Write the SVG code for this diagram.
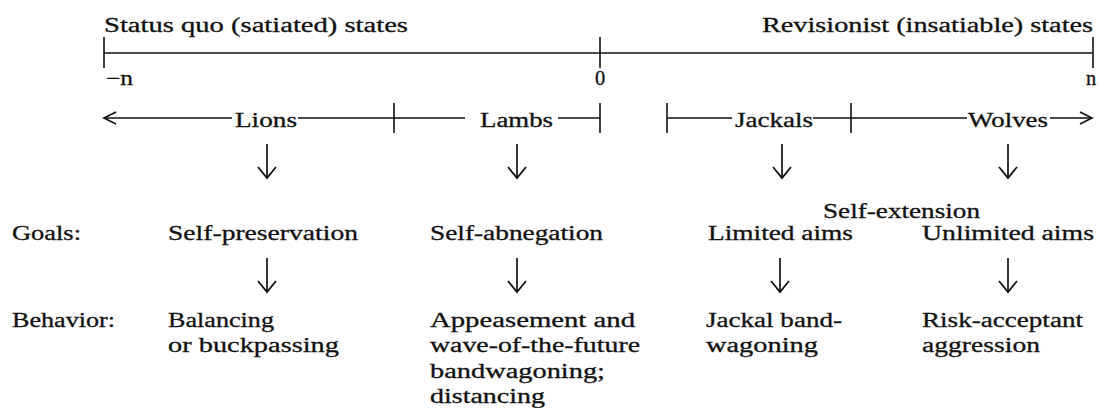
<svg xmlns="http://www.w3.org/2000/svg" width="1099" height="408" viewBox="0 0 1099 408">
<style>
text{font-family:"Liberation Serif","Times New Roman",serif;font-size:20.5px;fill:#111;stroke:#111;stroke-width:0.3;}
.ln{stroke:#111;stroke-width:1.4;fill:none;}
.tk{stroke:#111;stroke-width:1.6;fill:none;}
.ar{stroke:#111;stroke-width:1.7;fill:none;}
</style>
<defs>
<marker id="hd" viewBox="0 0 20 20" refX="18" refY="10" markerWidth="20" markerHeight="20" markerUnits="userSpaceOnUse" orient="auto">
<path d="M6,4 L18,10 L6,16" stroke="#111" stroke-width="1.7" fill="none"/>
</marker>
<marker id="dn" viewBox="0 0 24 24" refX="22" refY="12" markerWidth="24" markerHeight="24" markerUnits="userSpaceOnUse" orient="auto">
<path d="M11,3 L22,12 L11,21" stroke="#111" stroke-width="1.8" fill="none"/>
</marker>
</defs>
<rect width="1099" height="408" fill="#fff"/>

<g id="connectors">
<line class="ln" x1="104" y1="53" x2="1093" y2="53"/>
<line class="tk" x1="104" y1="37" x2="104" y2="68"/>
<line class="tk" x1="600" y1="37" x2="600" y2="68"/>
<line class="tk" x1="1093" y1="37" x2="1093" y2="68"/>
<line class="ln" x1="232" y1="118" x2="104" y2="118" marker-end="url(#hd)"/>
<line class="ln" x1="298" y1="118" x2="465" y2="118"/>
<line class="tk" x1="394" y1="103" x2="394" y2="133"/>
<line class="ln" x1="558" y1="118" x2="600" y2="118"/>
<line class="tk" x1="600" y1="103" x2="600" y2="133"/>
<line class="tk" x1="667" y1="103" x2="667" y2="133"/>
<line class="ln" x1="667" y1="118" x2="732" y2="118"/>
<line class="ln" x1="813" y1="118" x2="967" y2="118"/>
<line class="tk" x1="851" y1="103" x2="851" y2="133"/>
<line class="ln" x1="1050" y1="118" x2="1092" y2="118" marker-end="url(#hd)"/>
<line class="ar" x1="267" y1="144" x2="267" y2="178" marker-end="url(#dn)"/>
<line class="ar" x1="517" y1="144" x2="517" y2="178" marker-end="url(#dn)"/>
<line class="ar" x1="782" y1="144" x2="782" y2="178" marker-end="url(#dn)"/>
<line class="ar" x1="1008" y1="144" x2="1008" y2="178" marker-end="url(#dn)"/>
<line class="ar" x1="267" y1="258" x2="267" y2="292" marker-end="url(#dn)"/>
<line class="ar" x1="517" y1="258" x2="517" y2="292" marker-end="url(#dn)"/>
<line class="ar" x1="780" y1="258" x2="780" y2="292" marker-end="url(#dn)"/>
<line class="ar" x1="1008" y1="258" x2="1008" y2="292" marker-end="url(#dn)"/>
</g>

<g id="axis-labels">
<text x="104" y="32" textLength="304" lengthAdjust="spacingAndGlyphs">Status quo (satiated) states</text>
<text x="762" y="32" textLength="331" lengthAdjust="spacingAndGlyphs">Revisionist (insatiable) states</text>
<text x="106" y="85" textLength="27" lengthAdjust="spacingAndGlyphs">−n</text>
<text x="600" y="85" text-anchor="middle">0</text>
<text x="1091" y="85" text-anchor="middle">n</text>
</g>

<g id="lions"><text x="235" y="127" textLength="62" lengthAdjust="spacingAndGlyphs">Lions</text></g>
<g id="lambs"><text x="480" y="127" textLength="73" lengthAdjust="spacingAndGlyphs">Lambs</text></g>
<g id="jackals"><text x="735" y="127" textLength="78" lengthAdjust="spacingAndGlyphs">Jackals</text></g>
<g id="wolves"><text x="968" y="127" textLength="80" lengthAdjust="spacingAndGlyphs">Wolves</text></g>

<g id="goals-label"><text x="12" y="240" textLength="69" lengthAdjust="spacingAndGlyphs">Goals:</text></g>
<g id="goal-lions"><text x="168" y="240" textLength="190" lengthAdjust="spacingAndGlyphs">Self-preservation</text></g>
<g id="goal-lambs"><text x="430" y="240" textLength="173" lengthAdjust="spacingAndGlyphs">Self-abnegation</text></g>
<g id="self-extension"><text x="823" y="218" textLength="157" lengthAdjust="spacingAndGlyphs">Self-extension</text></g>
<g id="goal-jackals"><text x="708" y="240" textLength="145" lengthAdjust="spacingAndGlyphs">Limited aims</text></g>
<g id="goal-wolves"><text x="922" y="240" textLength="172" lengthAdjust="spacingAndGlyphs">Unlimited aims</text></g>

<g id="behavior-label"><text x="12" y="327" textLength="103" lengthAdjust="spacingAndGlyphs">Behavior:</text></g>
<g id="beh-lions">
<text x="168" y="327" textLength="106" lengthAdjust="spacingAndGlyphs">Balancing</text>
<text x="168" y="352" textLength="171" lengthAdjust="spacingAndGlyphs">or buckpassing</text>
</g>
<g id="beh-lambs">
<text x="430" y="327" textLength="205" lengthAdjust="spacingAndGlyphs">Appeasement and</text>
<text x="430" y="352" textLength="210" lengthAdjust="spacingAndGlyphs">wave-of-the-future</text>
<text x="430" y="378" textLength="175" lengthAdjust="spacingAndGlyphs">bandwagoning;</text>
<text x="430" y="403" textLength="115" lengthAdjust="spacingAndGlyphs">distancing</text>
</g>
<g id="beh-jackals">
<text x="706" y="327" textLength="136" lengthAdjust="spacingAndGlyphs">Jackal band-</text>
<text x="706" y="352" textLength="112" lengthAdjust="spacingAndGlyphs">wagoning</text>
</g>
<g id="beh-wolves">
<text x="922" y="327" textLength="161" lengthAdjust="spacingAndGlyphs">Risk-acceptant</text>
<text x="922" y="352" textLength="118" lengthAdjust="spacingAndGlyphs">aggression</text>
</g>
</svg>
